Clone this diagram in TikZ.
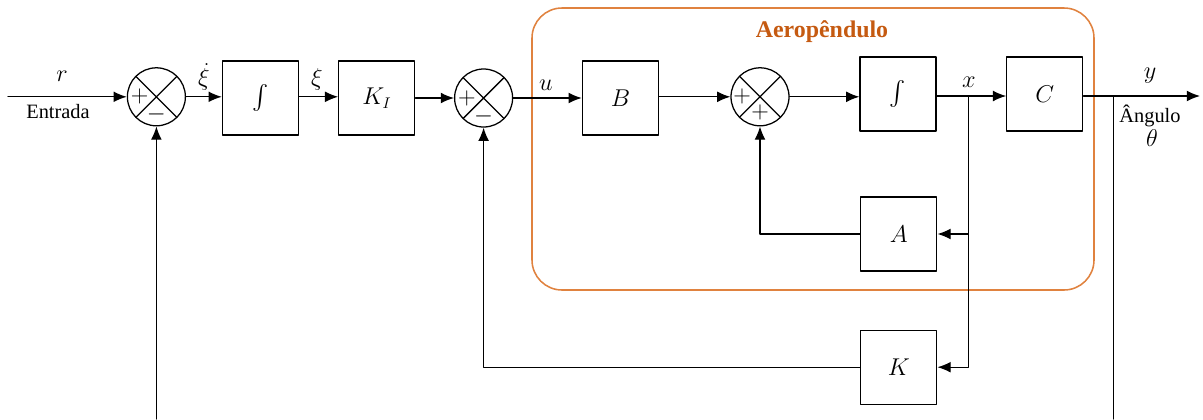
\documentclass[tikz,border=0pt]{standalone}
\usepackage{exscale}
\usepackage{fontspec}
\setmainfont{Liberation Serif}
\usepackage{tikz}
\usetikzlibrary{arrows.meta, calc}
\definecolor{laranja}{HTML}{E0823F}
\definecolor{laranjaescuro}{HTML}{C55A11}

\begin{document}
\begin{tikzpicture}[line cap=round, line join=round,
    bloco/.style={draw, line width=0.9pt, minimum width=1.9cm, minimum height=1.85cm,
                  font=\fontsize{16}{18}\selectfont},
    soma/.style={circle, draw, line width=0.9pt, minimum size=1.45cm, inner sep=0pt,
                 path picture={\draw[line width=0.9pt]
                   (path picture bounding box.north west) -- (path picture bounding box.south east)
                   (path picture bounding box.north east) -- (path picture bounding box.south west);}},
    sinal/.style={font=\fontsize{17}{18}\selectfont, inner sep=0pt},
    rotulo/.style={font=\fontsize{17}{20}\selectfont, inner sep=0pt},
    texto/.style={font=\fontsize{14.5}{16}\selectfont, inner sep=0pt, align=center},
    seta/.style={line width=0.9pt, -{Latex[length=0.33cm, width=0.27cm]}},
    linha/.style={line width=0.9pt}]

      \useasboundingbox (0,0) rectangle (30.075,-10.475);

      % Planta (Aeropendulo) - moldura laranja
      \draw[laranja, line width=1.1pt, rounded corners=0.75cm] (13.3,-0.2) rectangle (27.35,-7.25);
      \node[font=\fontsize{17}{20}\selectfont\bfseries, text=laranjaescuro] (titulo) at (20.55,-0.8) {Aeropêndulo};

      % Caminho direto
      \coordinate (entrada) at (0.2,-2.42);
      \node[soma] (s1) at (3.91,-2.42) {};
      \node[bloco] (int1) at (6.51,-2.45) {$\int$};
      \node[bloco] (KI) at (9.42,-2.45) {$K_I$};
      \node[soma] (s2) at (12.09,-2.45) {};
      \node[bloco] (B) at (15.51,-2.45) {$B$};
      \node[soma] (s3) at (19.0,-2.42) {};
      \node[bloco] (int2) at (22.45,-2.35) {$\int$};
      \node[bloco] (C) at (26.12,-2.35) {$C$};
      \coordinate (bx) at (24.22,-2.4);
      \coordinate (by) at (27.83,-2.4);
      \coordinate (saida) at (30.0,-2.4);

      % Realimentacao
      \node[bloco] (A) at (22.47,-5.85) {$A$};
      \node[bloco] (K) at (22.47,-9.18) {$K$};
      \coordinate (fim1) at (3.91,-10.475);
      \coordinate (fim2) at (27.83,-10.475);

      % Sinais dos somadores
      \node[sinal] (s1mais) at ([xshift=-0.42cm]s1.center) {$+$};
      \node[sinal] (s1menos) at ([yshift=-0.45cm]s1.center) {$-$};
      \node[sinal] (s2mais) at ([xshift=-0.42cm]s2.center) {$+$};
      \node[sinal] (s2menos) at ([yshift=-0.45cm]s2.center) {$-$};
      \node[sinal] (s3mais) at ([xshift=-0.45cm]s3.center) {$+$};
      \node[sinal] (s3mais2) at ([yshift=-0.4cm]s3.center) {$+$};

      % Rotulos
      \node[rotulo] (lr) at (1.55,-1.9) {$r$};
      \node[texto] (lentrada) at (1.45,-2.78) {Entrada};
      \node[rotulo] (lxidot) at (5.1,-1.92) {$\dot{\xi}$};
      \node[rotulo] (lxi) at (7.92,-1.98) {$\xi$};
      \node[rotulo] (lu) at (13.65,-2.12) {$u$};
      \node[rotulo] (lx) at (24.22,-2.05) {$x$};
      \node[rotulo] (ly) at (28.75,-1.88) {$y$};
      \node[texto] (langulo) at (28.75,-2.9) {Ângulo};
      \node[rotulo] (ltheta) at (28.8,-3.45) {$\theta$};

      % Ligacoes
      \draw[seta] (entrada) -- (s1);
      \draw[seta] (s1) -- (s1 -| int1.west);
      \draw[seta] (int1.east |- s1) -- (KI.west |- s1);
      \draw[seta] (KI.east |- s2) -- (s2);
      \draw[seta] (s2) -- (B.west |- s2);
      \draw[seta] (B.east |- s3) -- (s3);
      \draw[seta] (s3) -- (s3 -| int2.west);
      \draw[seta] (int2.east |- bx) -- (C.west |- bx);
      \draw[seta] (C.east |- saida) -- (saida);
      \draw[seta] (bx) |- (A.east);
      \draw[seta] (bx) |- (K.east);
      \draw[seta] (A.west) -| (s3.south);
      \draw[seta] (K.west) -| (s2.south);
      \draw[seta] (fim1) -- (s1.south);
      \draw[linha] (by) -- (fim2);
    \end{tikzpicture}
\end{document}
